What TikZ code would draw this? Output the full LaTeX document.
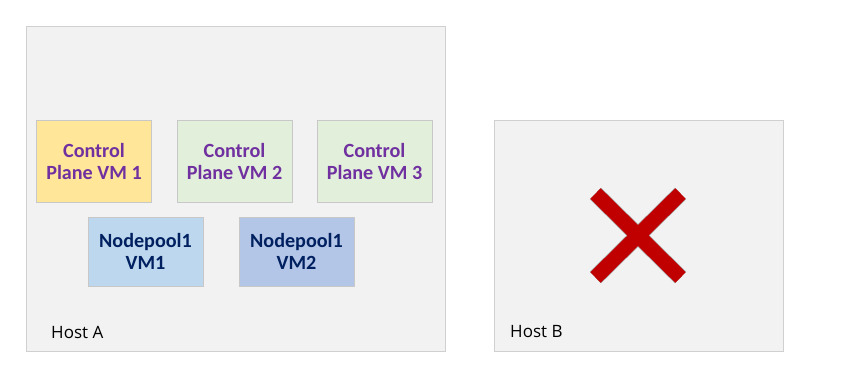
\documentclass[tikz,border=0pt]{standalone}
\usepackage{fontspec}
\setmainfont{Carlito}
\newfontfamily\hostfont{Open Sans}
\usetikzlibrary{positioning}
\definecolor{hostgrey}{HTML}{F2F2F2}
\definecolor{hostline}{HTML}{D0D0D0}
\definecolor{vmline}{HTML}{C8C8C8}
\definecolor{cpyellow}{HTML}{FFE699}
\definecolor{cpgreen}{HTML}{E2EFDA}
\definecolor{nplight}{HTML}{BDD7EE}
\definecolor{npdark}{HTML}{B4C6E7}
\definecolor{cppurple}{HTML}{7030A0}
\definecolor{npnavy}{HTML}{002060}
\definecolor{xred}{HTML}{C00000}

\begin{document}
\begin{tikzpicture}[x=0.03cm, y=-0.03cm,
    host/.style={draw=hostline, fill=hostgrey, line width=0.8pt, inner sep=0pt},
    vmbox/.style={draw=vmline, line width=0.8pt, inner sep=0pt, align=center,
      minimum width=3.45cm, minimum height=2.48cm,
      font=\fontsize{17.2}{19}\selectfont\bfseries, text=cppurple},
    npbox/.style={vmbox, minimum height=2.07cm, text=npnavy},
    hostlabel/.style={font=\hostfont\fontsize{14.5}{16}\selectfont, anchor=west, inner sep=0pt}]
                \useasboundingbox (0,0) rectangle (842,382);

                % Host A
                \node[host, minimum width=12.57cm, minimum height=9.75cm] (hostA) at (235.5,188.5) {};
                \node[hostlabel] (hostAlabel) at (51,332) {Host A};

                % Control plane
                \node[vmbox, fill=cpyellow] (cp1) at (94,161.5) {Control\\Plane VM 1};
                \node[vmbox, fill=cpgreen] (cp2) at (234.5,161.5) {Control\\Plane VM 2};
                \node[vmbox, fill=cpgreen] (cp3) at (374.5,161.5) {Control\\Plane VM 3};

                % Nodepool
                \node[npbox, fill=nplight] (np1) at (145.5,251.5) {Nodepool1\\VM1};
                \node[npbox, fill=npdark] (np2) at (296.5,251.5) {Nodepool1\\VM2};

                % Host B
                \node[host, minimum width=8.67cm, minimum height=6.93cm] (hostB) at (638.5,235.5) {};
                \node[hostlabel] (hostBlabel) at (510,332) {Host B};

                % failed host mark
                \draw[hostline!80!black, line width=13.8pt] (595.5,193.5) -- (680.5,277.5) (680.5,193.5) -- (595.5,277.5);
                \draw[xred, line width=12.6pt] (595.5,193.5) -- (680.5,277.5) (680.5,193.5) -- (595.5,277.5);
            \end{tikzpicture}
\end{document}
